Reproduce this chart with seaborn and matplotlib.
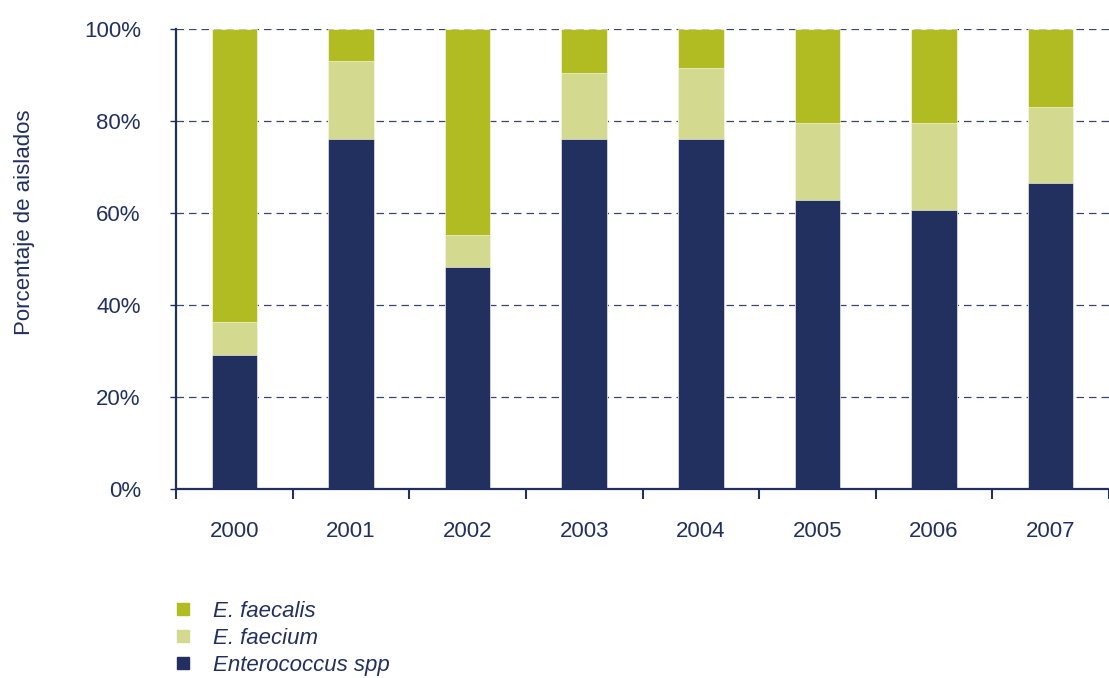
import matplotlib
matplotlib.use("Agg")
import matplotlib.pyplot as plt
import seaborn as sns
import pandas as pd
import numpy as np
from matplotlib.lines import Line2D

years = ["2000", "2001", "2002", "2003", "2004", "2005", "2006", "2007"]
spp = [29.3, 76.1, 48.3, 76.1, 76.1, 63.0, 60.7, 66.5]
faecium = [7.0, 17.0, 7.0, 14.4, 15.5, 16.6, 18.9, 16.5]
faecalis = [100 - a - b for a, b in zip(spp, faecium)]

labels = ["E. faecalis", "E. faecium", "Enterococcus spp"]
colors = {"E. faecalis": "#B0BC22", "E. faecium": "#D3D98F", "Enterococcus spp": "#22305F"}
navy = "#22305F"

sns.set_theme(style="white")
plt.rcParams["font.family"] = ["Liberation Sans", "DejaVu Sans"]

df = pd.DataFrame({"year": years, "spp": spp, "faecium": faecium, "faecalis": faecalis})
df["c_spp"] = df["spp"]
df["c_faecium"] = df["spp"] + df["faecium"]
df["c_faecalis"] = df["c_faecium"] + df["faecalis"]

fig = plt.figure(figsize=(11.09, 6.78), dpi=100)
W, H = 1109, 678
x0, x1 = 176, 1109
y0, y1 = 489.3, 29.3
ax = fig.add_axes([x0 / W, 1 - y0 / H, (x1 - x0) / W, (y0 - y1) / H])

for col, lab in [("c_faecalis", "E. faecalis"), ("c_faecium", "E. faecium"), ("c_spp", "Enterococcus spp")]:
    sns.barplot(data=df, x="year", y=col, color=colors[lab], width=0.39,
                edgecolor="#ffffff", linewidth=0.4, saturation=1, ax=ax, zorder=3)

ax.set_ylim(0, 100)
step = 117.5
ax.set_xlim(-0.5, -0.5 + (x1 - x0) / step)
ax.set_yticks([0, 20, 40, 60, 80, 100])
ax.set_yticklabels(["0%", "20%", "40%", "60%", "80%", "100%"])
ax.set_xticks(np.arange(-0.5, 8, 1.0))
ax.set_xticklabels([])
ax.set_xticks(np.arange(0, 8), minor=True)
ax.set_xticklabels(years, minor=True)
ax.set_xlabel("")
ax.set_ylabel("")

ax.tick_params(axis="x", which="major", direction="out", length=7.5, width=1.5, color=navy, bottom=True)
ax.tick_params(axis="x", which="minor", length=0, pad=23, labelsize=16, labelcolor=navy, bottom=True)
ax.tick_params(axis="y", direction="out", length=4.3, width=1.0, color=navy, pad=21,
               labelsize=16, labelcolor=navy, left=True)

ax.grid(axis="y", color="#3a4570", linestyle=(0, (6, 4)), linewidth=0.9, zorder=0)
ax.set_axisbelow(True)
for s in ["top", "right"]:
    ax.spines[s].set_visible(False)
for s in ["left", "bottom"]:
    ax.spines[s].set_color(navy)
    ax.spines[s].set_linewidth(1.6)
    ax.spines[s].set_zorder(4)

fig.text(25 / W, 1 - 222 / H, "Porcentaje de aislados", rotation=90, ha="center", va="center",
         fontsize=16, color=navy)

handles = [Line2D([0], [0], marker="s", linestyle="none", markersize=9,
                  markerfacecolor=colors[l], markeredgecolor=colors[l]) for l in labels]
leg = fig.legend(handles, labels, loc="upper left", bbox_to_anchor=(172 / W, 1 - 601 / H),
                 frameon=False, fontsize=16, labelspacing=0.26, handletextpad=0.85,
                 handlelength=1.0, borderaxespad=0, borderpad=0)
for t in leg.get_texts():
    t.set_color(navy)
    t.set_fontstyle("italic")

fig.savefig("out.png", dpi=100)
